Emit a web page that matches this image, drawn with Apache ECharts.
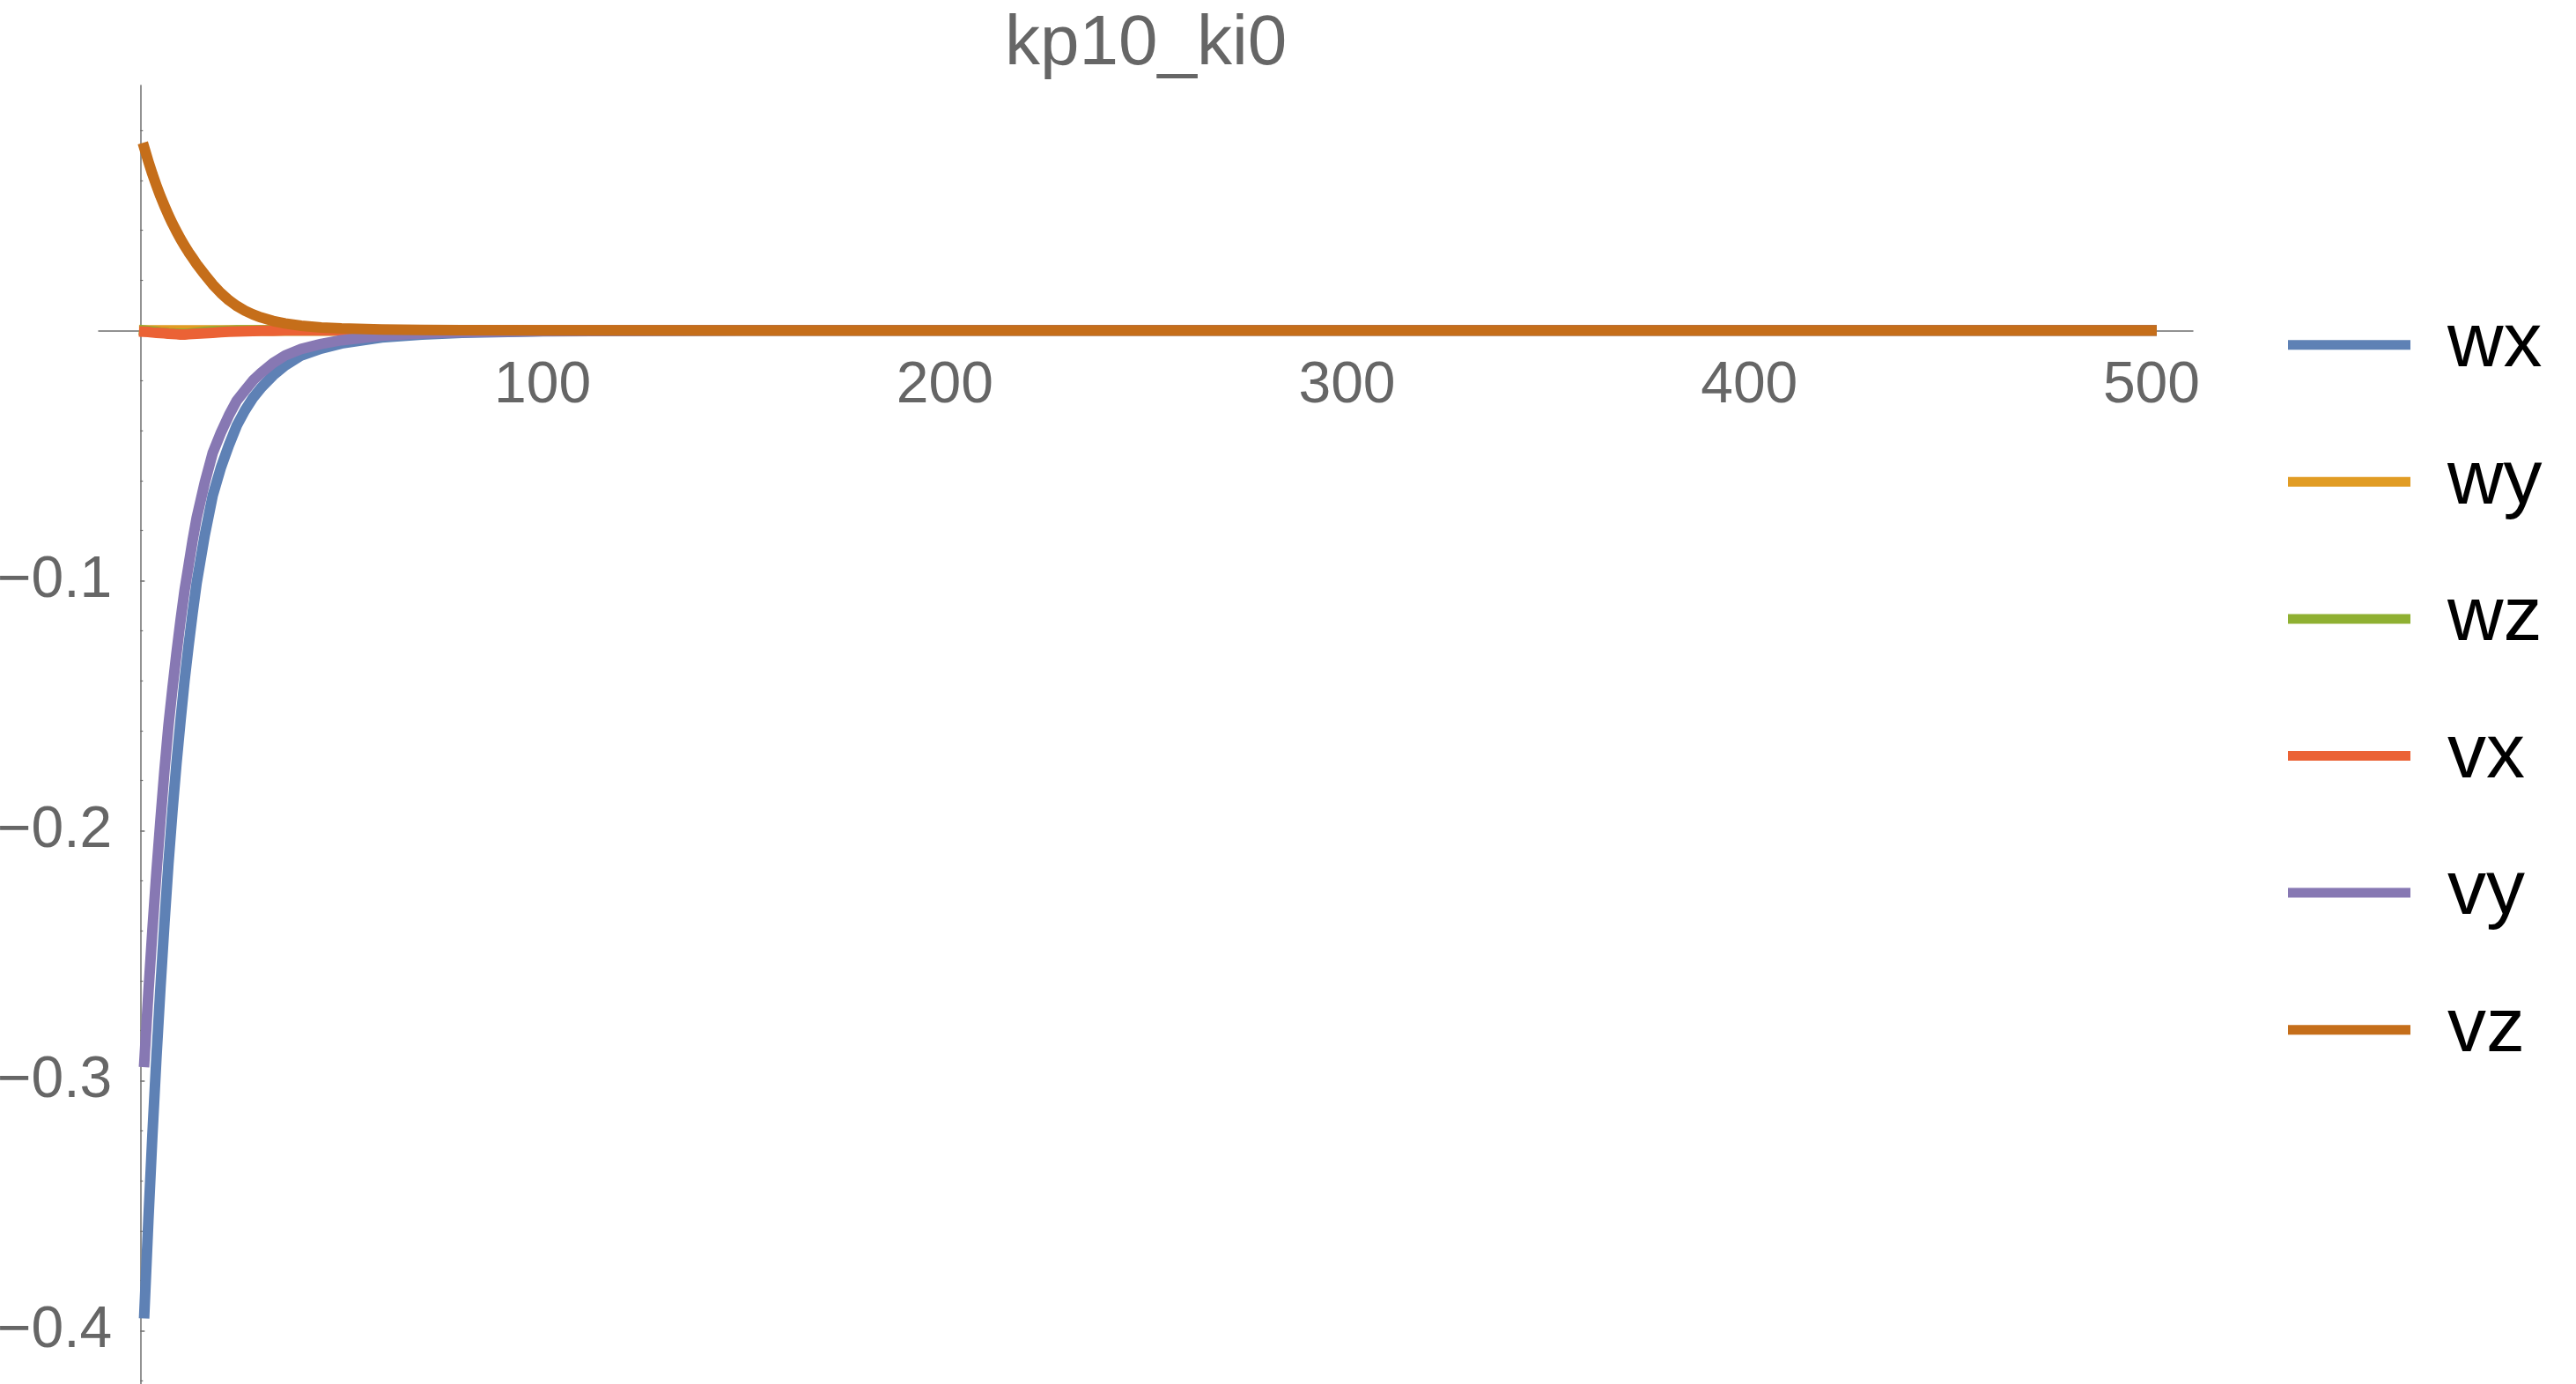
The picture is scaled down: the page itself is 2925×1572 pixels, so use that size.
<!DOCTYPE html>
<html><head><meta charset="utf-8">
<script src="https://cdn.jsdelivr.net/npm/echarts@6/dist/echarts.min.js"></script>
<style>html,body{margin:0;padding:0;background:#fff}#c{width:2925px;height:1572px}</style>
</head><body><div id="c"></div>
<script>
const titleText = 'kp10_ki0';
const seriesNames = ['wx', 'wy', 'wz', 'vx', 'vy', 'vz'];
const seriesColors = ['#5E81B5', '#E19C24', '#8FB032', '#EB6235', '#8778B3', '#C56E1A'];

// sample times (step index)
const t = [1,2,3,4,5,6,7,8,9,10,11,12,13,14,16,18,20,22,24,26,28,30,33,36,40,45,50,60,70,80,100,150,200,300,400,500];

const wx = [-0.393,-0.356,-0.322,-0.291,-0.263,-0.237,-0.213,-0.192,-0.173,-0.156,-0.140,-0.126,-0.113,-0.101,
  -0.082,-0.066,-0.055,-0.046,-0.038,-0.032,-0.027,-0.023,
  -0.018,-0.014,-0.010,-0.0072,-0.0052,-0.0028,-0.0016,-0.0009,-0.0003,
  0,0,0,0,0];
const wy = [0,0,0,0,0,0,0,0,0,0,0,0,0,0, 0,0,0,0,0,0,0,0, 0,0,0,0,0,0,0,0,0, 0,0,0,0,0];
const wz = [0,-0.0002,-0.0004,-0.0006,-0.0008,-0.0009,-0.0011,-0.0012,-0.0013,-0.0014,-0.0014,-0.0013,-0.0011,-0.0009,
  -0.0006,-0.0003,-0.0002,-0.0001,0,0,0,0,
  0,0,0,0,0,0,0,0,0,
  0,0,0,0,0];
const vx = [-0.0005,-0.0006,-0.0008,-0.0009,-0.0010,-0.0011,-0.0013,-0.0014,-0.0015,-0.0016,-0.0016,-0.0015,-0.0014,-0.0013,
  -0.0011,-0.0009,-0.0007,-0.0005,-0.0004,-0.0003,-0.0002,-0.0001,
  -0.0001,0,0,0,0,0,0,0,0,
  0,0,0,0,0];
const vy = [-0.2925,-0.265,-0.240,-0.217,-0.196,-0.176,-0.158,-0.143,-0.129,-0.116,-0.104,-0.094,-0.084,-0.075,
  -0.061,-0.049,-0.041,-0.034,-0.028,-0.024,-0.020,-0.017,
  -0.013,-0.010,-0.0074,-0.0054,-0.0039,-0.0021,-0.0012,-0.0007,-0.0002,
  0,0,0,0,0];
const vz = [0.0730,0.0676,0.0626,0.0580,0.0537,0.0498,0.0461,0.0427,0.0396,0.0366,0.0339,0.0313,0.0290,0.0266,
  0.0224,0.0184,0.0150,0.0121,0.0098,0.0079,0.0064,0.0052,
  0.0038,0.0028,0.0019,0.0012,0.0008,0.0004,0.0002,0.0001,0,
  0,0,0,0,0];

const xMajorTicks = [100, 200, 300, 400, 500];
const xMinorTicks = [20,40,60,80,120,140,160,180,220,240,260,280,320,340,360,380,420,440,460,480];
const yMajorTicks = [-0.4, -0.3, -0.2, -0.1];
const yMinorTicks = [-0.42,-0.38,-0.36,-0.34,-0.32,-0.28,-0.26,-0.24,-0.22,-0.18,-0.16,-0.14,-0.12,-0.08,-0.06,-0.04,-0.02,0.02,0.04,0.06,0.08];

const FONT = '"Liberation Sans", Arial, sans-serif';
const AX = '#6e6e6e';
const X_MIN = -10.36, X_MAX = 510.3, Y_MIN = -0.4213, Y_MAX = 0.098;
const G_LEFT = 112, G_RIGHT = 435, G_TOP = 97, G_BOTTOM = 0, W = 2925, H = 1572;

// place axes through the origin using offsets (inward = negative)
const gridW = W - G_LEFT - G_RIGHT, gridH = H - G_TOP - G_BOTTOM;
const xAxisOffset = -(gridH * (0 - Y_MIN) / (Y_MAX - Y_MIN));
const yAxisOffset = -(gridW * (0 - X_MIN) / (X_MAX - X_MIN));

const values = [wx, wy, wz, vx, vy, vz];

const chart = echarts.init(document.getElementById('c'), null, {renderer: 'canvas'});
chart.setOption({
  animation: false,
  backgroundColor: '#ffffff',
  title: {
    text: titleText, left: 1141, top: 11, padding: 0,
    textStyle: {fontSize: 80, color: '#666666', fontWeight: 'normal', fontFamily: FONT}
  },
  legend: {
    orient: 'vertical', left: 2598, top: 347.7, padding: 0,
    icon: 'rect', itemWidth: 139, itemHeight: 11, itemGap: 67.6,
    selectedMode: false,
    textStyle: {fontSize: 88, lineHeight: 88, color: '#000000', fontFamily: FONT, padding: [0, 0, 0, 37]},
    data: seriesNames
  },
  grid: {left: G_LEFT, right: G_RIGHT, top: G_TOP, bottom: G_BOTTOM, containLabel: false, outerBoundsMode: 'none'},
  xAxis: [
    {
      type: 'value', min: X_MIN, max: X_MAX, position: 'bottom', offset: xAxisOffset,
      axisLine: {show: true, onZero: false, lineStyle: {color: AX, width: 1.5}},
      axisTick: {show: true, inside: true, length: 5, customValues: xMajorTicks, lineStyle: {color: AX, width: 1.5}},
      axisLabel: {show: true, customValues: xMajorTicks, fontSize: 66, color: '#666666', margin: 30, fontFamily: FONT},
      splitLine: {show: false}
    },
    {
      type: 'value', min: X_MIN, max: X_MAX, position: 'bottom', offset: xAxisOffset,
      axisLine: {show: false, onZero: false},
      axisTick: {show: true, inside: true, length: 3, customValues: xMinorTicks, lineStyle: {color: AX, width: 1.2}},
      axisLabel: {show: false},
      splitLine: {show: false}
    }
  ],
  yAxis: [
    {
      type: 'value', min: Y_MIN, max: Y_MAX, position: 'left', offset: yAxisOffset,
      axisLine: {show: true, onZero: false, lineStyle: {color: AX, width: 1.5}},
      axisTick: {show: true, inside: true, length: 5, customValues: yMajorTicks, lineStyle: {color: AX, width: 1.5}},
      axisLabel: {show: true, customValues: yMajorTicks, fontSize: 66, color: '#666666', margin: 32, fontFamily: FONT,
        padding: [8, 0, 0, 0],
        formatter: v => (v < 0 ? '\u2212' : '') + Math.abs(v).toFixed(1)},
      splitLine: {show: false}
    },
    {
      type: 'value', min: Y_MIN, max: Y_MAX, position: 'left', offset: yAxisOffset,
      axisLine: {show: false, onZero: false},
      axisTick: {show: true, inside: true, length: 3, customValues: yMinorTicks, lineStyle: {color: AX, width: 1.2}},
      axisLabel: {show: false},
      splitLine: {show: false}
    }
  ],
  series: seriesNames.map((name, i) => ({
    name: name, type: 'line', xAxisIndex: 0, yAxisIndex: 0,
    data: t.map((x, k) => [x, values[i][k]]),
    symbol: 'none', showSymbol: false, smooth: false,
    color: seriesColors[i],
    lineStyle: {width: 12, color: seriesColors[i], cap: 'square', join: 'round'},
    itemStyle: {color: seriesColors[i]},
    emphasis: {disabled: true}
  }))
});
</script></body></html>
